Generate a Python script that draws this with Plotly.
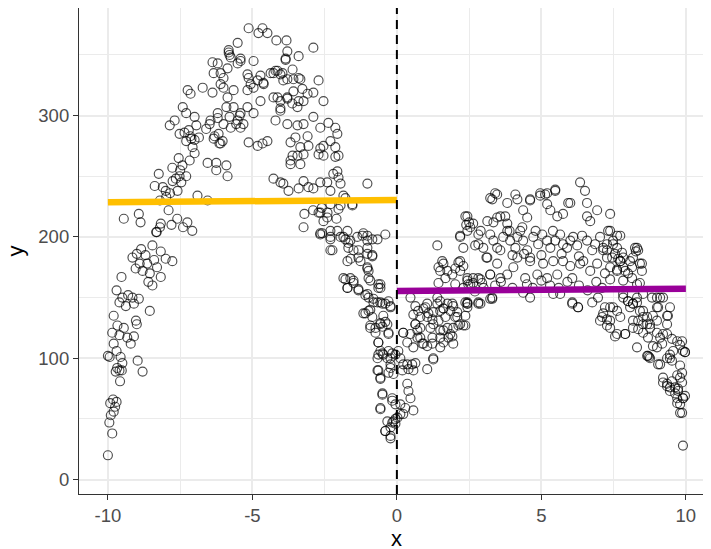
import plotly.graph_objects as go

# Points (x < 0 segment)
left_points = [
(-10.0,20),(-9.85,38),(-9.95,47),(-9.9,53),(-9.8,56),(-9.92,63),(-9.82,66),(-9.7,64),(-9.75,60),
(-9.94,101),(-10.0,102),(-9.7,106),(-9.56,101),(-9.5,96),(-9.73,89),(-9.58,81),(-9.68,92),(-9.6,90),(-9.52,90),(-8.97,98),(-8.8,89),
(-9.8,112),(-9.85,121),(-9.67,127),(-9.8,135),(-9.45,125),(-9.33,117),(-9.21,112),(-9.6,119),
(-9.7,156),(-9.5,150),(-9.38,143),(-9.1,145),(-8.93,149),(-9.03,131),(-9.1,118),(-8.55,139),(-9.6,146),(-9.3,152),(-9.0,128),(-9.15,150),
(-9.53,167),(-9.15,183),(-9.04,174),(-8.64,178),(-8.46,193),(-8.17,188),(-8.0,182),(-7.77,180),(-8.17,167),(-8.46,160),(-8.9,178),(-8.8,172),(-8.7,185),(-8.55,170),(-8.3,175),(-8.6,163),(-9.0,186),(-8.85,190),(-8.4,181),
(-9.45,215),(-8.93,219),(-8.87,212),(-8.31,204),(-8.17,211),(-7.6,215),(-7.25,212),(-7.08,205),(-7.9,222),(-8.33,204),(-8.2,208),(-7.8,210),(-7.4,208),
(-8.38,242),(-8.1,241),(-7.76,246),(-7.52,250),(-7.46,245),(-8.2,230),(-7.98,233),(-7.59,238),(-8.0,238),(-7.85,236),(-8.24,252),(-7.77,257),(-7.55,265),(-7.42,259),(-7.29,250),(-7.17,263),(-7.0,269),(-7.5,255),(-7.65,248),
(-6.55,261),(-6.25,261),(-6.25,255),(-5.9,259),(-5.86,250),
(-7.86,292),(-7.69,296),(-7.52,285),(-7.29,279),(-7.11,281),(-7.0,280),(-6.85,282),(-7.07,274),(-7.41,307),(-7.29,302),(-7.0,299),(-6.94,292),(-7.35,286),(-7.2,288),(-7.15,283),
(-6.6,289),(-6.48,293),(-6.31,283),(-6.14,277),(-6.03,279),(-6.2,302),(-5.9,307),(-5.79,299),(-5.56,293),(-5.44,300),
(-5.13,372),(-4.79,368),(-4.65,372),(-4.48,368),(-5.51,360),(-5.82,352),(-5.75,348),(-5.41,345),(-5.51,343),(-6.38,344),(-6.2,343),(-6.1,335),(-5.86,339),(-6.0,331),(-6.34,335),(-4.96,345),(-4.17,362),(-3.82,362),(-3.79,353),(-3.85,347),
(-6.72,323),(-7.24,321),(-7.14,318),(-6.38,319),(-6.1,326),(-6.0,323),(-5.65,321),(-5.86,315),
(-5.13,331),(-5.06,326),(-4.82,329),(-4.62,327),(-5.17,321),(-4.96,323),
(-4.27,335),(-4.13,337),(-3.96,335),(-3.93,329),(-3.58,330),(-3.4,331),
(-3.58,320),(-3.79,315),(-4.13,315),(-4.03,306),(-3.62,310),(-3.4,312),
(-5.65,307),(-5.41,302),(-5.51,296),(-5.17,307),(-4.96,302),(-4.72,312),
(-6.45,296),(-6.2,298),(-6.0,293),(-5.75,290),(-5.41,290),(-5.31,293),
(-5.13,278),(-4.82,275),(-4.65,277),(-4.48,279),(-6.34,281),(-6.1,277),(-6.17,285),
(-4.27,248),(-4.03,245),(-3.75,238),(-3.93,244),(-3.68,263),(-3.44,267),(-3.68,260),(-6.55,230),(-6.9,234),
(-3.4,349),(-2.89,356),(-3.85,346),(-5.41,347),(-5.82,354),(-5.79,350),
(-5.17,334),(-4.72,333),(-4.61,326),(-4.37,335),(-4.2,337),(-4.03,334),(-3.79,330),(-3.61,338),(-3.34,330),(-3.27,322),(-3.09,318),(-2.89,319),(-2.71,329),(-2.54,312),
(-4.27,315),(-4.03,312),(-3.79,314),(-3.23,312),(-3.44,307),(-4.03,304),(-4.2,296),(-3.79,293),(-3.44,292),(-3.23,293),(-2.89,299),(-2.65,290),(-2.37,294),(-2.13,290),
(-3.68,278),(-3.51,282),(-3.34,274),(-3.09,283),(-3.06,275),(-2.65,273),(-2.54,275),(-2.3,279),(-2.13,274),(-2.06,285),(-2.02,267),
(-3.61,267),(-3.34,260),(-3.23,268),(-2.71,268),(-2.54,267),(-2.13,266),
(-2.06,254),(-2.02,249),(-1.95,244),(-2.2,252),
(-3.4,240),(-3.23,246),(-3.06,241),(-2.89,240),(-2.65,245),(-2.41,245),(-2.3,238),(-1.78,232),(-1.54,227),(-1.02,244),
(-2.65,220),(-2.54,213),(-2.41,216),(-2.09,215),(-3.23,208),(-2.65,203),(-2.3,205),(-2.3,200),(-2.23,189),(-1.95,200),(-1.71,205),(-1.61,197),(-1.37,200),(-1.16,203),(-1.02,191),(-0.67,198),(-0.4,202),
(-2.02,223),(-2.3,227),(-2.71,220),(-1.95,226),(-1.85,234),(-1.54,226),
(-2.58,203),(-2.3,189),(-1.78,198),(-1.68,191),(-1.02,201),(-0.85,198),(-1.5,189),(-1.33,183),(-1.26,180),(-0.85,185),
(-1.85,166),(-1.61,166),(-1.71,158),(-1.5,162),(-1.02,175),(-0.98,172),(-0.92,164),(-0.57,161),(-0.64,158),(-1.33,157),(-1.09,152),(-0.98,150),(-0.81,146),(-0.57,146),(-0.4,145),(-0.22,143),(-0.29,147),
(-1.09,137),(-0.98,139),(-0.85,134),(-0.92,127),(-0.74,125),(-0.57,129),(-0.47,135),(-0.33,128),(-0.29,121),(-0.64,113),(-0.57,106),(-0.47,103),(-0.29,106),(-0.22,100),(-0.67,100),(-0.22,95),(-0.64,90),(-0.57,83),(-0.29,88),(-0.12,87),
(-0.5,71),(-0.57,59),(-0.16,67),(-0.05,62),(-0.33,48),(-0.4,40),(-0.22,43),(-0.16,47),(-0.05,50),(-0.22,34),(-0.05,46),
(-2.65,202),(-2.3,198),(-2.06,205),(-1.85,200),(-1.68,195),(-1.19,201),(-1.02,197),(-1.33,189),(-1.02,186),(-0.85,184),(-1.71,180),(-1.6,182),(-1.02,174),(-0.98,166),(-0.64,161),(-0.57,158),(-1.78,165),(-1.71,158),(-1.5,164),(-1.33,156),(-1.02,153),(-0.81,149),(-0.67,146),(-0.5,145),(-0.22,142),(-1.16,137),(-0.92,140),(-0.92,125),(-0.74,121),(-0.57,128),(-0.5,126),(-0.4,130),(-0.64,113),(-0.29,120),(-0.64,103),(-0.5,104),(-0.33,100),(-0.16,104),(-0.05,103),(-0.67,90),(-0.57,84),(-0.22,92),(-0.5,70),(-0.16,65),(-0.57,58),(-0.4,40),(-0.22,36),(-0.12,48),
(-3.2,219),(-2.9,222),(-2.6,224),(-2.4,220),
]

# Points (x >= 0 segment)
right_points = [
(0.05,106),(0.12,100),(0.22,95),(0.19,90),(0.36,95),(0.4,91),(0.53,95),(0.64,96),(0.57,90),(0.36,79),(0.4,73),(0.47,67),(0.12,62),(0.29,59),(0.57,57),(0.22,54),(0.02,51),(0.12,54),
(0.22,121),(0.47,120),(0.64,128),(0.71,123),(0.81,117),(0.88,112),(1.05,110),(1.23,112),(1.26,99),(1.05,91),(0.57,109),
(0.47,150),(0.64,143),(0.74,139),(0.81,134),(0.92,141),(1.05,145),(1.09,137),(1.23,132),(1.26,128),(1.4,150),(1.5,147),(1.5,139),(1.61,141),(1.75,145),(1.85,139),(1.95,143),(2.09,134),(1.95,125),(1.61,123),(1.5,117),(1.61,113),(1.78,117),(1.92,118),(2.13,127),(2.3,127),(2.37,135),(2.44,145),
(1.4,193),(1.57,180),(1.61,178),(1.44,175),(1.75,172),(1.92,169),(2.02,174),(2.19,180),(2.3,176),(2.44,166),(2.47,161),(2.64,162),(2.89,165),(2.95,162),(3.23,169),(3.3,150),(2.89,145),(2.44,146),
(2.19,201),(2.37,217),(2.44,205),(2.54,208),(2.64,211),(2.82,194),(2.99,191),(3.13,213),(3.34,212),(3.3,231),(3.47,235),
(1.5,172),(1.44,162),(1.68,166),(2.13,179),(2.19,172),(2.44,164),(2.54,161),(2.02,161),(2.3,158),(2.64,166),(2.82,166),
(2.3,191),(2.71,193),(2.82,202),(3.23,202),(3.47,216),(3.58,217),(3.75,217),(3.82,211),(3.23,232),(3.82,228),(4.1,235),(4.17,231),(4.37,222),(4.51,216),(4.61,230),(4.96,234),(5.13,235),(5.2,227),(5.48,238),(5.31,222),(5.55,217),(5.75,219),(6.0,228),(6.34,245),(6.51,238),(6.58,228),(6.58,217),(6.69,213),(6.93,222),(7.38,219),(7.31,205),(7.48,197),(7.73,201),
(3.4,236),(4.61,231),(4.96,236),(5.2,236),(5.48,239),(5.93,228),(2.44,217),
(3.34,197),(3.47,191),(3.58,189),(3.68,200),(3.82,205),(3.92,197),(4.1,191),(4.17,200),(4.27,205),(4.34,208),(4.37,197),(4.51,189),(4.61,183),(4.72,200),(4.89,194),(5.03,202),(5.2,197),(5.31,191),(5.48,197),(5.65,202),(5.75,194),(5.89,191),(6.0,197),(6.1,200),(6.24,193),(6.41,201),(6.58,197),(6.76,189),(6.86,194),(7.03,200),(7.14,189),(7.27,194),(7.45,183),(7.62,191),(7.73,180),(7.83,183),
(3.9,205),(4.0,185),(4.4,186),(4.8,205),(5.4,205),(5.7,186),(6.3,184),(3.1,183),(2.9,205),(5.0,185),
(3.13,183),(3.23,169),(3.47,178),(3.58,166),(3.82,169),(4.03,175),(4.17,183),(4.44,166),(4.61,180),(4.86,169),(5.06,178),(5.2,166),(5.41,180),(5.55,169),(5.75,180),(6.0,176),(6.07,166),(6.34,178),(6.45,180),(6.69,172),(6.93,178),(7.27,183),(7.38,175),(7.62,172),(7.83,175),(8.07,180),(8.31,191),(8.27,188),(8.48,178),
(3.4,160),(3.6,163),(4.0,158),(4.5,161),(4.7,158),(5.0,164),(5.3,160),(5.6,158),(5.9,163),(6.3,160),(6.6,156),(6.9,163),(7.1,158),(2.7,155),(3.0,158),
(2.37,146),(2.44,142),(2.82,145),(3.3,149),(4.37,154),(4.61,150),(5.41,153),(5.65,153),(6.07,146),(6.27,142),(6.76,146),(6.96,150),(7.14,137),(7.38,142),(7.62,139),(7.73,134),(7.83,150),(8.0,147),(8.17,145),(8.31,146),(8.52,139),(8.66,134),(9.0,142),(9.11,150),(9.35,135),(9.45,142),
(7.03,131),(7.27,127),(7.38,125),(7.62,120),(7.9,120),(8.17,125),(8.35,131),(8.52,128),(8.76,128),(9.0,121),(9.11,117),(9.35,120),
(8.31,109),(8.66,102),(8.76,100),(9.0,109),(9.11,95),(9.45,100),(9.56,106),(9.7,114),(9.8,111),(9.9,106),(9.97,105),(9.52,98),
(9.21,84),(9.35,79),(9.45,76),(9.63,76),(9.73,73),(9.8,84),(9.7,67),(9.8,62),(9.87,55),(9.9,67),(9.97,69),(9.9,28),
(7.38,205),(7.62,201),(7.48,194),(7.55,186),(7.66,182),(7.27,189),(7.14,191),(7.79,187),(7.73,180),(7.62,173),(7.2,170),(7.38,165),(7.9,172),(7.83,164),(8.24,191),(8.35,189),(8.17,183),(8.41,178),(8.14,175),(8.0,170),(8.14,166),(8.31,161),(8.41,162),(8.48,172),
(7.83,153),(8.0,147),(8.17,145),(8.07,142),(8.31,150),(8.52,153),(8.83,150),(9.0,150),(9.21,150),(9.04,142),(8.86,135),(9.38,135),(9.35,128),(8.41,139),(8.52,134),(8.66,128),(8.76,125),(9.0,131),(7.2,142),(7.48,142),(7.27,132),(7.38,131),(7.1,134),(8.17,131),(7.9,120),(7.55,118),(8.35,124),(8.52,121),
(8.69,117),(8.86,110),(9.18,112),(9.21,120),(9.52,116),(9.87,114),(9.97,105),(9.45,103),(9.35,100),(8.69,102),(8.73,101),(9.04,95),(9.8,94),
(9.21,80),(9.35,77),(9.52,81),(9.7,86),(9.73,75),(9.87,80),(9.63,71),(9.9,67),(9.7,63),(9.8,55),(9.45,73),(9.87,88),
(0.22,121),(0.36,113),(0.57,136),(0.64,128),(0.71,117),(0.81,125),(0.92,112),(0.99,142),(1.05,134),(1.16,125),(1.23,117),(1.26,138),(1.4,145),(1.44,131),(1.5,123),(1.61,141),(1.68,134),(1.75,125),(1.85,120),(1.92,145),(2.02,134),(2.09,138),(2.19,128),(2.37,127),(2.44,145),(1.95,112),(1.5,109),(1.26,100),
(2.19,200),(2.4,210),(2.5,212),(2.82,146),(3.23,149),(6.07,145),(6.27,142),
]

# Fitted segment lines (per side)
left_line_x = [-10, 0]
left_line_y = [228.5, 230.5]
right_line_x = [0, 10]
right_line_y = [155.5, 157.2]
cutoff = 0

x_ticks = [-10, -5, 0, 5, 10]
x_tick_labels = ["-10", "-5", "0", "5", "10"]
y_ticks = [0, 100, 200, 300]
y_tick_labels = ["0", "100", "200", "300"]

pts = left_points + right_points
px_ = [p[0] for p in pts]
py_ = [p[1] for p in pts]

FONT = "Liberation Sans, Arial, sans-serif"

fig = go.Figure()
fig.add_trace(go.Scatter(
    x=px_, y=py_, mode="markers",
    marker=dict(symbol="circle-open", size=9, color="rgba(0,0,0,0.7)", line=dict(width=1.15)),
    hoverinfo="skip", showlegend=False))
fig.add_trace(go.Scatter(x=left_line_x, y=left_line_y, mode="lines",
                         line=dict(color="#FFBF00", width=6.5), showlegend=False))
fig.add_trace(go.Scatter(x=right_line_x, y=right_line_y, mode="lines",
                         line=dict(color="#990099", width=6.5), showlegend=False))

fig.add_shape(type="line", x0=cutoff, x1=cutoff, y0=0, y1=1, xref="x", yref="y domain",
              line=dict(color="black", width=2, dash="9px,6px"))

axis_common = dict(
    showgrid=True, gridcolor="#EBEBEB", gridwidth=2, zeroline=False,
    showline=True, linecolor="#333333", linewidth=1.2,
    ticks="outside", ticklen=5, tickwidth=1.2, tickcolor="#333333",
    tickfont=dict(family=FONT, size=18.5, color="#4D4D4D"),
    automargin=False,
)

fig.update_xaxes(range=[-11, 10.87], tickvals=x_ticks, ticktext=x_tick_labels, mirror=True,
                 minor=dict(dtick=2.5, tick0=0, showgrid=True, gridcolor="#EBEBEB", gridwidth=1, ticks=""),
                 **axis_common)
fig.update_yaxes(range=[-11.9, 388.7], tickvals=y_ticks, ticktext=y_tick_labels, mirror=False,
                 minor=dict(dtick=50, tick0=0, showgrid=True, gridcolor="#EBEBEB", gridwidth=1, ticks=""),
                 **axis_common)

# The page adds an 8px body margin, so the figure is offset by (8, 8) in the window.
fig.add_annotation(text="x", xref="x", yref="paper", x=0, y=0, yshift=-44, yanchor="middle",
                   showarrow=False, font=dict(family=FONT, size=22, color="black"))
fig.add_annotation(text="y", xref="paper", yref="y", x=0, y=188, xshift=-64, xanchor="center",
                   textangle=-90, showarrow=False, font=dict(family=FONT, size=22, color="black"))

fig.update_layout(width=703, height=541, margin=dict(l=71, r=0, t=0, b=55, autoexpand=False),
                  plot_bgcolor="white", paper_bgcolor="white",
                  font=dict(family=FONT))

fig.write_html("out.html")
